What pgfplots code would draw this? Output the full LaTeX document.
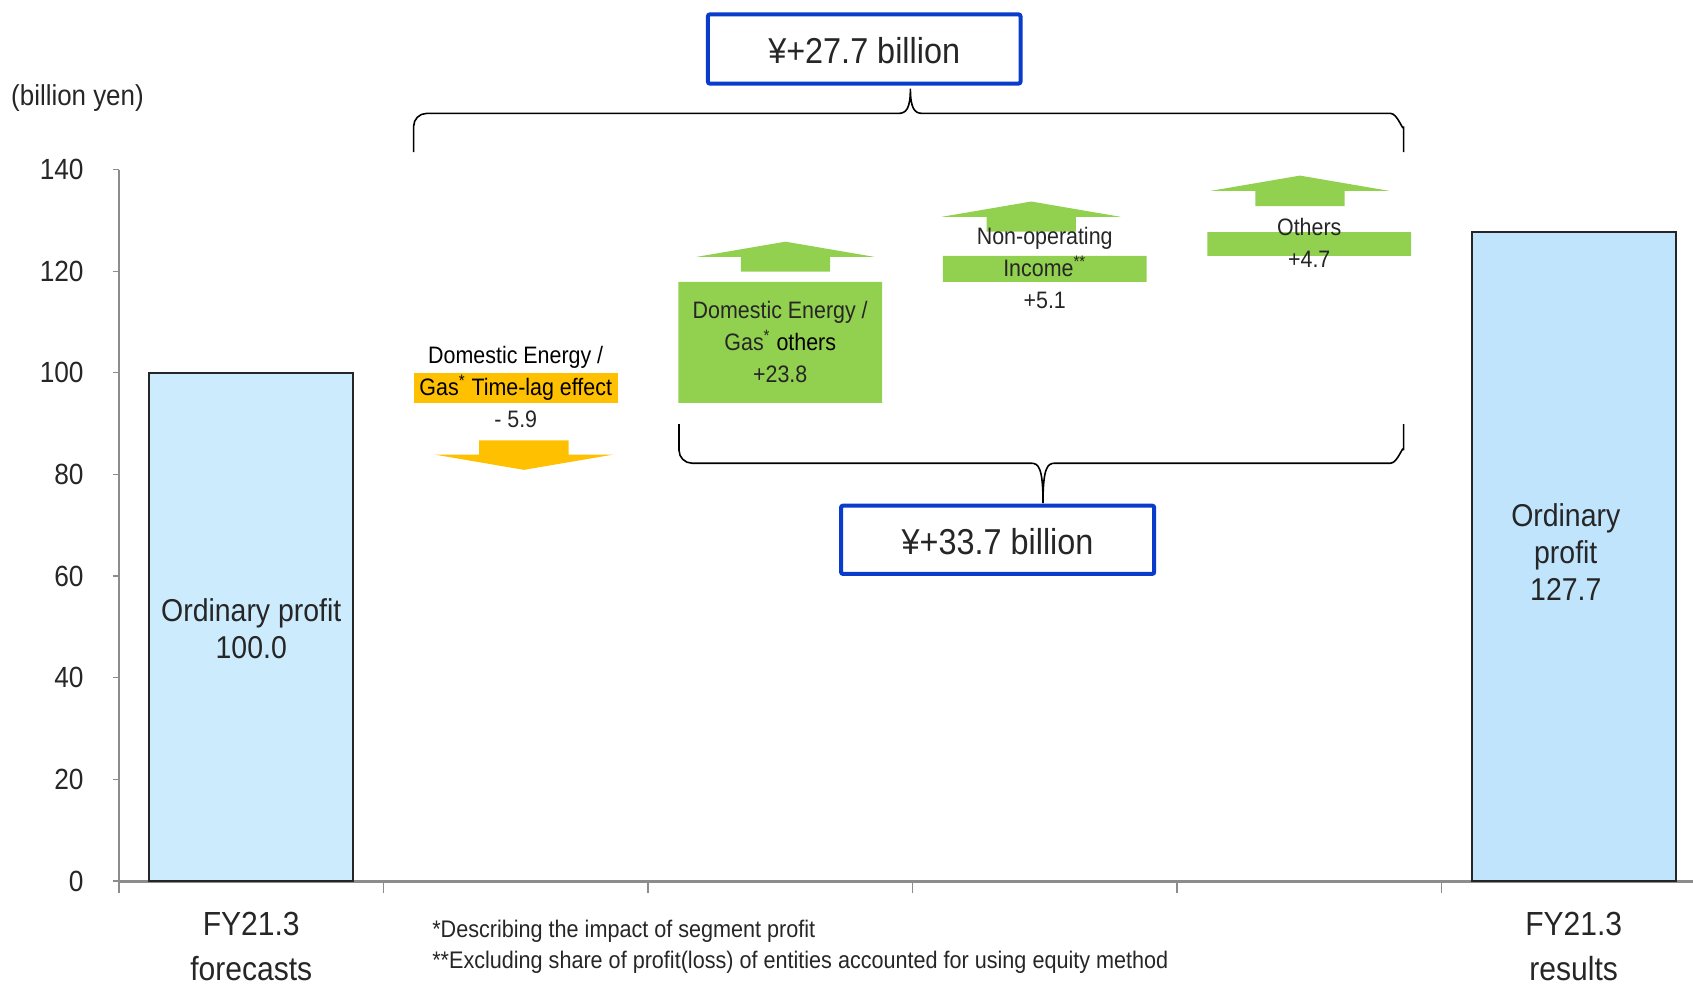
\documentclass[border=0pt]{standalone}
\usepackage{fontspec}
\setmainfont{Liberation Sans}[FakeStretch=0.9]
\usepackage{pgfplots}
\pgfplotsset{compat=1.18}
\definecolor{txt}{HTML}{262626}
\definecolor{axgray}{HTML}{8C8C8C}
\definecolor{bluea}{HTML}{CCEBFD}
\definecolor{blueb}{HTML}{BFE4FC}
\definecolor{orng}{HTML}{FFC000}
\definecolor{grn}{HTML}{92D050}
\definecolor{boxblue}{HTML}{0A3CCB}
\newcommand\labfont{\fontsize{11.9}{15.9}\selectfont}
\newcommand\barfont{\fontsize{15.8}{18.4}\selectfont}
\begin{document}
\begin{tikzpicture}
\pgfplotsset{common/.style={at={(0,0)}, anchor=south west, scale only axis,
  width=787pt, height=355.75pt, xmin=-0.5, xmax=5.451, ymin=0, ymax=140, clip=false}}
% floating (waterfall) bars
\begin{axis}[common, hide axis, ybar stacked, bar width=0.77]
\addplot[draw=none, fill=none] coordinates {(0,0) (1,94.1) (2,94.1) (3,117.9) (4,123.0) (5,0)};
\addplot[draw=none, fill=orng] coordinates {(0,0) (1,5.9) (2,0) (3,0) (4,0) (5,0)};
\addplot[draw=none, fill=grn] coordinates {(0,0) (1,0) (2,23.8) (3,5.1) (4,4.7) (5,0)};
\end{axis}
% main axis
\begin{axis}[common,
  axis lines*=left,
  x axis line style={draw=axgray, line width=1.5pt},
  y axis line style={draw=axgray, line width=0.6pt},
  tick align=outside,
  major tick length=3.2pt, minor tick length=6pt,
  ytick={0,20,40,60,80,100,120,140},
  y tick style={draw=axgray, line width=0.6pt},
  xtick={0,5},
  xticklabels={{FY21.3\\forecasts},{FY21.3\\results}},
  minor xtick={-0.5,0.5,1.5,2.5,3.5,4.5},
  major x tick style={draw=none},
  minor x tick style={draw=axgray, line width=0.6pt},
  /pgf/number format/assume math mode=true,
  yticklabel style={font=\fontsize{14.6}{17}\selectfont, text=txt, inner sep=0pt, xshift=-14.3pt},
  xticklabel style={font=\fontsize{16.7}{22.3}\selectfont, text=txt, align=center, inner sep=0pt, yshift=-12.3pt},
]
\addplot[ybar, bar width=0.77, bar shift=0pt, fill=bluea, draw=txt, line width=1pt] coordinates {(0,100)};
\addplot[ybar, bar width=0.77, bar shift=0pt, fill=blueb, draw=txt, line width=1pt] coordinates {(5,127.7)};
% arrows
\fill[orng] (axis cs:0.862,86.7) -- (axis cs:1.2,86.7) -- (axis cs:1.2,83.9) -- (axis cs:1.368,83.9)
  -- (axis cs:1.031,80.9) -- (axis cs:0.694,83.9) -- (axis cs:0.862,83.9) -- cycle;
\fill[grn] (axis cs:1.851,119.9) -- (axis cs:1.851,122.8) -- (axis cs:1.683,122.8) -- (axis cs:2.02,125.8)
  -- (axis cs:2.357,122.8) -- (axis cs:2.189,122.8) -- (axis cs:2.189,119.9) -- cycle;
\fill[grn] (axis cs:2.780,127.8) -- (axis cs:2.780,130.7) -- (axis cs:2.612,130.7) -- (axis cs:2.949,133.7)
  -- (axis cs:3.286,130.7) -- (axis cs:3.118,130.7) -- (axis cs:3.118,127.8) -- cycle;
\fill[grn] (axis cs:3.796,132.8) -- (axis cs:3.796,135.8) -- (axis cs:3.628,135.8) -- (axis cs:3.965,138.8)
  -- (axis cs:4.302,135.8) -- (axis cs:4.134,135.8) -- (axis cs:4.134,132.8) -- cycle;
% labels
\node[align=center, font=\labfont, text=black] at (axis cs:1,97.2) {Domestic Energy /\\Gas\textsuperscript{*} Time-lag effect\\\textcolor{txt}{- 5.9}};
\node[align=center, font=\labfont, text=txt] at (axis cs:2,106.1) {Domestic Energy /\\Gas\textsuperscript{*} \textcolor{black}{others}\\+23.8};
\node[align=center, font=\labfont, text=txt] at (axis cs:3,120.6) {Non-operating\\Income\textsuperscript{**}\\+5.1};
\node[align=center, font=\labfont, text=txt] at (axis cs:4,125.5) {Others\\+4.7};
\node[align=center, font=\barfont, text=txt] at (axis cs:0,49.6) {Ordinary profit\\100.0};
\node[align=center, font=\barfont, text=txt] at (axis cs:4.97,64.7) {Ordinary\\profit\\127.7};
\node[anchor=west, inner sep=0pt, font=\fontsize{14.4}{17}\selectfont, text=txt] at (axis cs:-0.909,154.0) {(billion yen)};
\node[anchor=west, inner sep=0pt, font=\fontsize{12}{15.9}\selectfont, text=txt] at (axis cs:0.683,-9.8) {*Describing the impact of segment profit};
\node[anchor=west, inner sep=0pt, font=\fontsize{12}{15.9}\selectfont, text=txt] at (axis cs:0.683,-15.95) {**Excluding share of profit(loss) of entities accounted for using equity method};
\end{axis}
% braces
\draw[black, line width=0.8pt] (147.3pt,364.4pt) -- (147.3pt,377.3pt) to[out=90,in=180] (153.8pt,383.8pt)
  -- (389.7pt,383.8pt) .. controls (393.5pt,383.8pt) and (395.7pt,386pt) .. (395.7pt,396.2pt)
  .. controls (395.7pt,386pt) and (397.9pt,383.8pt) .. (401.7pt,383.8pt)
  -- (635.8pt,383.8pt) to[out=0,in=-90] (642.3pt,377.3pt) -- (642.3pt,364.4pt);
\draw[black, line width=0.8pt] (280pt,228.4pt) -- (280pt,215.4pt) to[out=-90,in=180] (286.5pt,208.9pt)
  -- (456pt,208.9pt) .. controls (459.8pt,208.9pt) and (462pt,206.7pt) .. (462pt,188.9pt)
  .. controls (462pt,206.7pt) and (464.2pt,208.9pt) .. (468pt,208.9pt)
  -- (635.8pt,208.9pt) to[out=0,in=90] (642.3pt,215.4pt) -- (642.3pt,228.4pt);
% boxes
\node[draw=boxblue, line width=2pt, rounded corners=1pt, fill=white, minimum width=156.3pt, minimum height=34.6pt,
  inner sep=0pt] (b1) at (372.6pt,416pt) {};
\node[font=\fontsize{18}{20}\selectfont, text=txt, inner sep=0pt] at (372.6pt,415pt) {¥+27.7 billion};
\node[draw=boxblue, line width=2pt, rounded corners=1pt, fill=white, minimum width=156.6pt, minimum height=34.1pt,
  inner sep=0pt] (b2) at (439.3pt,170.6pt) {};
\node[font=\fontsize{18}{20}\selectfont, text=txt, inner sep=0pt] at (439.3pt,169.6pt) {¥+33.7 billion};
\pgfresetboundingbox
\useasboundingbox (-59.5pt,-53pt) rectangle (787pt,440.5pt);
\end{tikzpicture}
\end{document}
